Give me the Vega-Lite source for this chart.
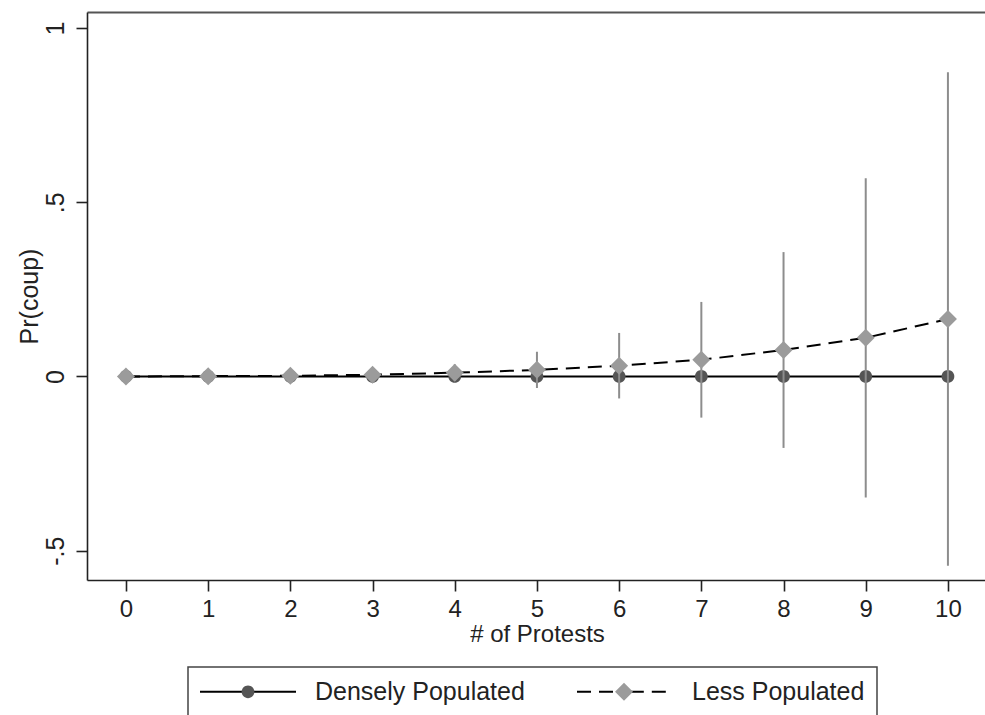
{
  "$schema": "https://vega.github.io/schema/vega-lite/v6.json",
  "width": 898,
  "height": 568,
  "autosize": {"type": "none"},
  "padding": {"left": 87, "top": 12, "right": 0, "bottom": 135},
  "background": "white",
  "config": {
    "font": "Liberation Sans",
    "view": {"stroke": null},
    "legend": {"strokeWidth": 1.5}
  },
  "data": {
    "values": [
      {"protests": 0, "series": "Densely Populated", "pr": 0, "lo": 0, "hi": 0},
      {"protests": 1, "series": "Densely Populated", "pr": 0, "lo": 0, "hi": 0},
      {"protests": 2, "series": "Densely Populated", "pr": 0, "lo": 0, "hi": 0},
      {"protests": 3, "series": "Densely Populated", "pr": 0, "lo": 0, "hi": 0},
      {"protests": 4, "series": "Densely Populated", "pr": 0, "lo": 0, "hi": 0},
      {"protests": 5, "series": "Densely Populated", "pr": 0, "lo": 0, "hi": 0},
      {"protests": 6, "series": "Densely Populated", "pr": 0, "lo": 0, "hi": 0},
      {"protests": 7, "series": "Densely Populated", "pr": 0, "lo": 0, "hi": 0},
      {"protests": 8, "series": "Densely Populated", "pr": 0, "lo": 0, "hi": 0},
      {"protests": 9, "series": "Densely Populated", "pr": 0, "lo": 0, "hi": 0},
      {"protests": 10, "series": "Densely Populated", "pr": 0, "lo": 0, "hi": 0},
      {"protests": 0, "series": "Less Populated", "pr": 0.000, "lo": -0.001, "hi": 0.001},
      {"protests": 1, "series": "Less Populated", "pr": 0.001, "lo": -0.001, "hi": 0.003},
      {"protests": 2, "series": "Less Populated", "pr": 0.002, "lo": -0.003, "hi": 0.007},
      {"protests": 3, "series": "Less Populated", "pr": 0.005, "lo": -0.006, "hi": 0.016},
      {"protests": 4, "series": "Less Populated", "pr": 0.011, "lo": -0.013, "hi": 0.035},
      {"protests": 5, "series": "Less Populated", "pr": 0.019, "lo": -0.033, "hi": 0.071},
      {"protests": 6, "series": "Less Populated", "pr": 0.031, "lo": -0.063, "hi": 0.125},
      {"protests": 7, "series": "Less Populated", "pr": 0.048, "lo": -0.118, "hi": 0.214},
      {"protests": 8, "series": "Less Populated", "pr": 0.076, "lo": -0.205, "hi": 0.357},
      {"protests": 9, "series": "Less Populated", "pr": 0.111, "lo": -0.347, "hi": 0.569},
      {"protests": 10, "series": "Less Populated", "pr": 0.165, "lo": -0.543, "hi": 0.873}
    ]
  },
  "resolve": {"axis": {"x": "independent"}},
  "layer": [
    {
      "mark": {"type": "line", "color": "black", "strokeWidth": 2},
      "encoding": {
        "x": {
          "field": "protests", "type": "quantitative",
          "scale": {"domain": [-0.474, 10.451], "nice": false, "zero": false},
          "axis": {
            "title": "# of Protests",
            "values": [0, 1, 2, 3, 4, 5, 6, 7, 8, 9, 10],
            "format": "d",
            "grid": false,
            "tickSize": 11, "tickWidth": 1.6, "tickColor": "#222",
            "domainColor": "#222", "domainWidth": 1.6,
            "labelPadding": 6, "labelFontSize": 24, "labelColor": "#222",
            "labelFlush": false, "labelOverlap": false,
            "titleFontSize": 24, "titleFontWeight": "normal", "titleColor": "#222",
            "titleX": 450, "titleY": 61, "titleAlign": "center", "titleBaseline": "alphabetic"
          }
        },
        "y": {
          "field": "pr", "type": "quantitative", "title": "Pr(coup)",
          "scale": {"domain": [-0.584, 1.046], "nice": false, "zero": false},
          "axis": {
            "title": "Pr(coup)",
            "values": [-0.5, 0, 0.5, 1],
            "labelExpr": "datum.value == 0.5 ? '.5' : datum.value == -0.5 ? '-.5' : datum.value == 1 ? '1' : '0'",
            "grid": false,
            "tickSize": 11, "tickWidth": 1.6, "tickColor": "#222",
            "domainColor": "#222", "domainWidth": 1.6,
            "labelAngle": -90, "labelAlign": "center", "labelBaseline": "alphabetic",
            "labelPadding": 13, "labelFontSize": 25, "labelColor": "#222",
            "labelFlush": false, "labelOverlap": false,
            "titleFontSize": 25, "titleFontWeight": "normal", "titleColor": "#222",
            "titleAngle": -90, "titleX": -50, "titleY": 284, "titleAlign": "center", "titleBaseline": "alphabetic"
          }
        },
        "strokeDash": {
          "field": "series", "type": "nominal",
          "scale": {"domain": ["Densely Populated", "Less Populated"], "range": [[1, 0], [14, 8]]},
          "legend": {
            "orient": "none", "legendX": 101, "legendY": 655,
            "direction": "horizontal", "title": null,
            "symbolType": "M-6,0H-0.6M0.6,0H6",
            "symbolSize": 256, "symbolStrokeWidth": 2,
            "symbolStrokeColor": "black", "symbolFillColor": "transparent",
            "symbolOffset": 35.5, "labelOffset": 54.5,
            "labelFontSize": 25, "labelColor": "#222", "labelLimit": 400,
            "columnPadding": 48, "padding": 12,
            "strokeColor": "#444"
          }
        }
      }
    },
    {
      "transform": [{"filter": "datum.series == 'Densely Populated'"}],
      "mark": {"type": "point", "filled": true, "size": 225, "opacity": 1, "strokeWidth": 0},
      "encoding": {
        "x": {
          "field": "protests", "type": "quantitative",
          "scale": {"domain": [-0.474, 10.451], "nice": false, "zero": false},
          "axis": {"orient": "top", "title": null, "labels": false, "ticks": false, "grid": false, "domain": true, "domainColor": "#555", "domainWidth": 2}
        },
        "y": {
          "field": "pr", "type": "quantitative", "title": "Pr(coup)",
          "scale": {"domain": [-0.584, 1.046], "nice": false, "zero": false}
        },
        "shape": {
          "field": "series", "type": "nominal",
          "scale": {"range": ["M-0.85,0A0.85,0.85 0 1,0 0.85,0A0.85,0.85 0 1,0 -0.85,0Z", "M0,-1.2L1.2,0L0,1.2L-1.2,0Z"]},
          "legend": {
            "orient": "none", "legendX": 101, "legendY": 655,
            "direction": "horizontal", "title": null,
            "symbolSize": 225, "symbolStrokeWidth": 0, "symbolOpacity": 1,
            "symbolOffset": 35.5, "labelOffset": 54.5,
            "labelFontSize": 25, "labelExpr": "''", "labelLimit": 400,
            "columnPadding": 261, "padding": 12
          }
        },
        "color": {
          "field": "series", "type": "nominal",
          "scale": {"range": ["#555555", "#9b9b9b"]},
          "legend": {
            "orient": "none", "legendX": 101, "legendY": 655,
            "direction": "horizontal", "title": null,
            "symbolSize": 225, "symbolStrokeWidth": 0, "symbolOpacity": 1,
            "symbolOffset": 35.5, "labelOffset": 54.5,
            "labelFontSize": 25, "labelExpr": "''", "labelLimit": 400,
            "columnPadding": 261, "padding": 12
          }
        }
      }
    },
    {
      "transform": [{"filter": "datum.series == 'Less Populated'"}],
      "mark": {"type": "rule", "color": "#8d8d8d", "strokeWidth": 2},
      "encoding": {
        "x": {
          "field": "protests", "type": "quantitative",
          "scale": {"domain": [-0.474, 10.451], "nice": false, "zero": false},
          "axis": null
        },
        "y": {
          "field": "lo", "type": "quantitative", "title": "Pr(coup)",
          "scale": {"domain": [-0.584, 1.046], "nice": false, "zero": false}
        },
        "y2": {"field": "hi"}
      }
    },
    {
      "transform": [{"filter": "datum.series == 'Less Populated'"}],
      "mark": {"type": "point", "filled": true, "size": 225, "opacity": 1, "strokeWidth": 0},
      "encoding": {
        "x": {
          "field": "protests", "type": "quantitative",
          "scale": {"domain": [-0.474, 10.451], "nice": false, "zero": false},
          "axis": null
        },
        "y": {
          "field": "pr", "type": "quantitative", "title": "Pr(coup)",
          "scale": {"domain": [-0.584, 1.046], "nice": false, "zero": false}
        },
        "shape": {"field": "series", "type": "nominal"},
        "color": {"field": "series", "type": "nominal"}
      }
    }
  ]
}
